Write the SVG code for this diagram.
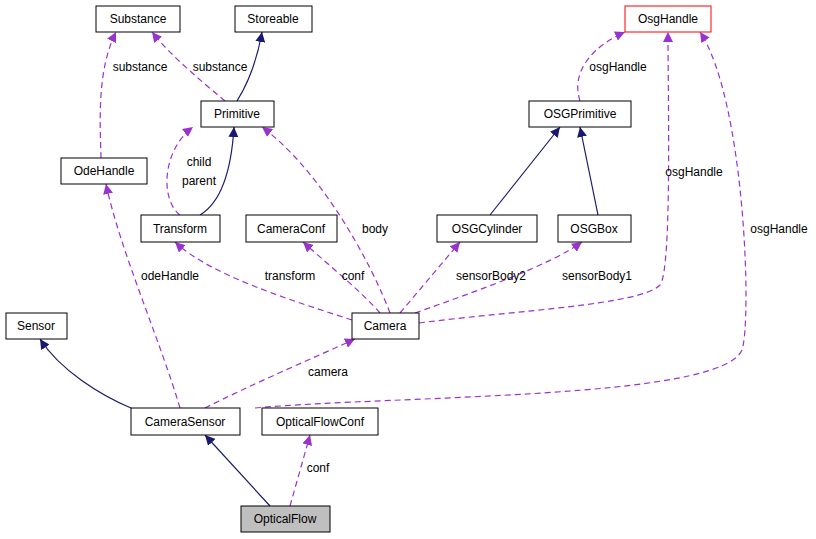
<svg xmlns="http://www.w3.org/2000/svg" width="816" height="539" viewBox="0 0 816 539">
<style>
.n rect{fill:#fff;stroke:#000;stroke-width:1}
text{font-family:"Liberation Sans",Arial,sans-serif;font-size:12px;fill:#000}
.n text{text-anchor:middle}
.s{fill:none;stroke:#191970;stroke-width:1.2}
.d{fill:none;stroke:#9a32cd;stroke-width:1.2;stroke-dasharray:6,4}
</style>
<defs>
<marker id="an" viewBox="0 0 10 10" refX="10" refY="5" markerWidth="10" markerHeight="10" markerUnits="userSpaceOnUse" orient="auto"><path d="M0,0L10,5L0,10z" fill="#191970"/></marker>
<marker id="ap" viewBox="0 0 10 10" refX="10" refY="5" markerWidth="10" markerHeight="10" markerUnits="userSpaceOnUse" orient="auto"><path d="M0,0L10,5L0,10z" fill="#9a32cd"/></marker>
</defs>
<rect width="816" height="539" fill="#fff"/>
<g id="connectors">
<path class="s" marker-end="url(#an)" d="M237,101C250,80 258,55 262,32"/>
<path class="d" marker-end="url(#ap)" d="M225,101C200,80 170,55 152,32"/>
<path class="d" marker-end="url(#ap)" d="M101,158C100,120 97,70 116,32"/>
<path class="s" marker-end="url(#an)" d="M200,215C225,200 232,160 234,127"/>
<path class="d" marker-end="url(#ap)" d="M180,215C160,200 162,150 193,127"/>
<path class="d" marker-end="url(#ap)" d="M390,313C370,260 320,170 262,127"/>
<path class="s" marker-end="url(#an)" d="M490,215L560,127"/>
<path class="s" marker-end="url(#an)" d="M598,215L580,127"/>
<path class="d" marker-end="url(#ap)" d="M580,101C570,70 595,45 625,32"/>
<path class="d" marker-end="url(#ap)" d="M419,323C520,310 640,305 660,285C672,270 668,100 668,32"/>
<path class="d" marker-end="url(#ap)" d="M255,408C400,395 720,400 742,350C752,320 745,100 700,32"/>
<path class="d" marker-end="url(#ap)" d="M352,320C290,300 210,275 175,242"/>
<path class="d" marker-end="url(#ap)" d="M380,313C360,290 325,262 303,242"/>
<path class="d" marker-end="url(#ap)" d="M400,313L460,242"/>
<path class="d" marker-end="url(#ap)" d="M415,313C480,290 550,265 582,242"/>
<path class="s" marker-end="url(#an)" d="M131,408C100,395 60,370 40,339"/>
<path class="d" marker-end="url(#ap)" d="M180,408C160,340 120,250 106,184"/>
<path class="d" marker-end="url(#ap)" d="M205,408C250,385 320,355 355,339"/>
<path class="s" marker-end="url(#an)" d="M270,506L205,435"/>
<path class="d" marker-end="url(#ap)" d="M290,506L310,435"/>
<text x="220" y="71" text-anchor="middle">substance</text>
<text x="140" y="71" text-anchor="middle">substance</text>
<text x="199" y="166" text-anchor="middle">child</text>
<text x="199" y="185" text-anchor="middle">parent</text>
<text x="375" y="233" text-anchor="middle">body</text>
<text x="618" y="71" text-anchor="middle">osgHandle</text>
<text x="694" y="176" text-anchor="middle">osgHandle</text>
<text x="779" y="233" text-anchor="middle">osgHandle</text>
<text x="290" y="280" text-anchor="middle">transform</text>
<text x="353" y="280" text-anchor="middle">conf</text>
<text x="491" y="280" text-anchor="middle">sensorBody2</text>
<text x="597" y="280" text-anchor="middle">sensorBody1</text>
<text x="170" y="280" text-anchor="middle">odeHandle</text>
<text x="328" y="376" text-anchor="middle">camera</text>
<text x="318" y="472" text-anchor="middle">conf</text>
</g>
<g id="Substance" class="n"><rect x="96" y="6" width="84" height="26"/><text x="138" y="23">Substance</text></g>
<g id="Storeable" class="n"><rect x="235" y="6" width="77" height="26"/><text x="273" y="23">Storeable</text></g>
<g id="OsgHandle" class="n"><rect x="625" y="6" width="86" height="26" style="stroke:#f00"/><text x="668" y="23">OsgHandle</text></g>
<g id="Primitive" class="n"><rect x="201" y="101" width="73" height="26"/><text x="237" y="118">Primitive</text></g>
<g id="OSGPrimitive" class="n"><rect x="529" y="101" width="102" height="26"/><text x="580" y="118">OSGPrimitive</text></g>
<g id="OdeHandle" class="n"><rect x="61" y="158" width="86" height="26"/><text x="104" y="175">OdeHandle</text></g>
<g id="Transform" class="n"><rect x="141" y="215" width="79" height="27"/><text x="180" y="233">Transform</text></g>
<g id="CameraConf" class="n"><rect x="246" y="215" width="91" height="27"/><text x="291" y="233">CameraConf</text></g>
<g id="OSGCylinder" class="n"><rect x="437" y="215" width="100" height="27"/><text x="487" y="233">OSGCylinder</text></g>
<g id="OSGBox" class="n"><rect x="558" y="215" width="73" height="27"/><text x="594" y="233">OSGBox</text></g>
<g id="Sensor" class="n"><rect x="6" y="313" width="61" height="26"/><text x="36" y="330">Sensor</text></g>
<g id="Camera" class="n"><rect x="352" y="313" width="67" height="26"/><text x="385" y="330">Camera</text></g>
<g id="CameraSensor" class="n"><rect x="131" y="408" width="109" height="27"/><text x="185" y="426">CameraSensor</text></g>
<g id="OpticalFlowConf" class="n"><rect x="262" y="408" width="116" height="27"/><text x="320" y="426">OpticalFlowConf</text></g>
<g id="OpticalFlow" class="n"><rect x="241" y="506" width="89" height="26" style="fill:#bfbfbf"/><text x="285" y="523">OpticalFlow</text></g>
</svg>
